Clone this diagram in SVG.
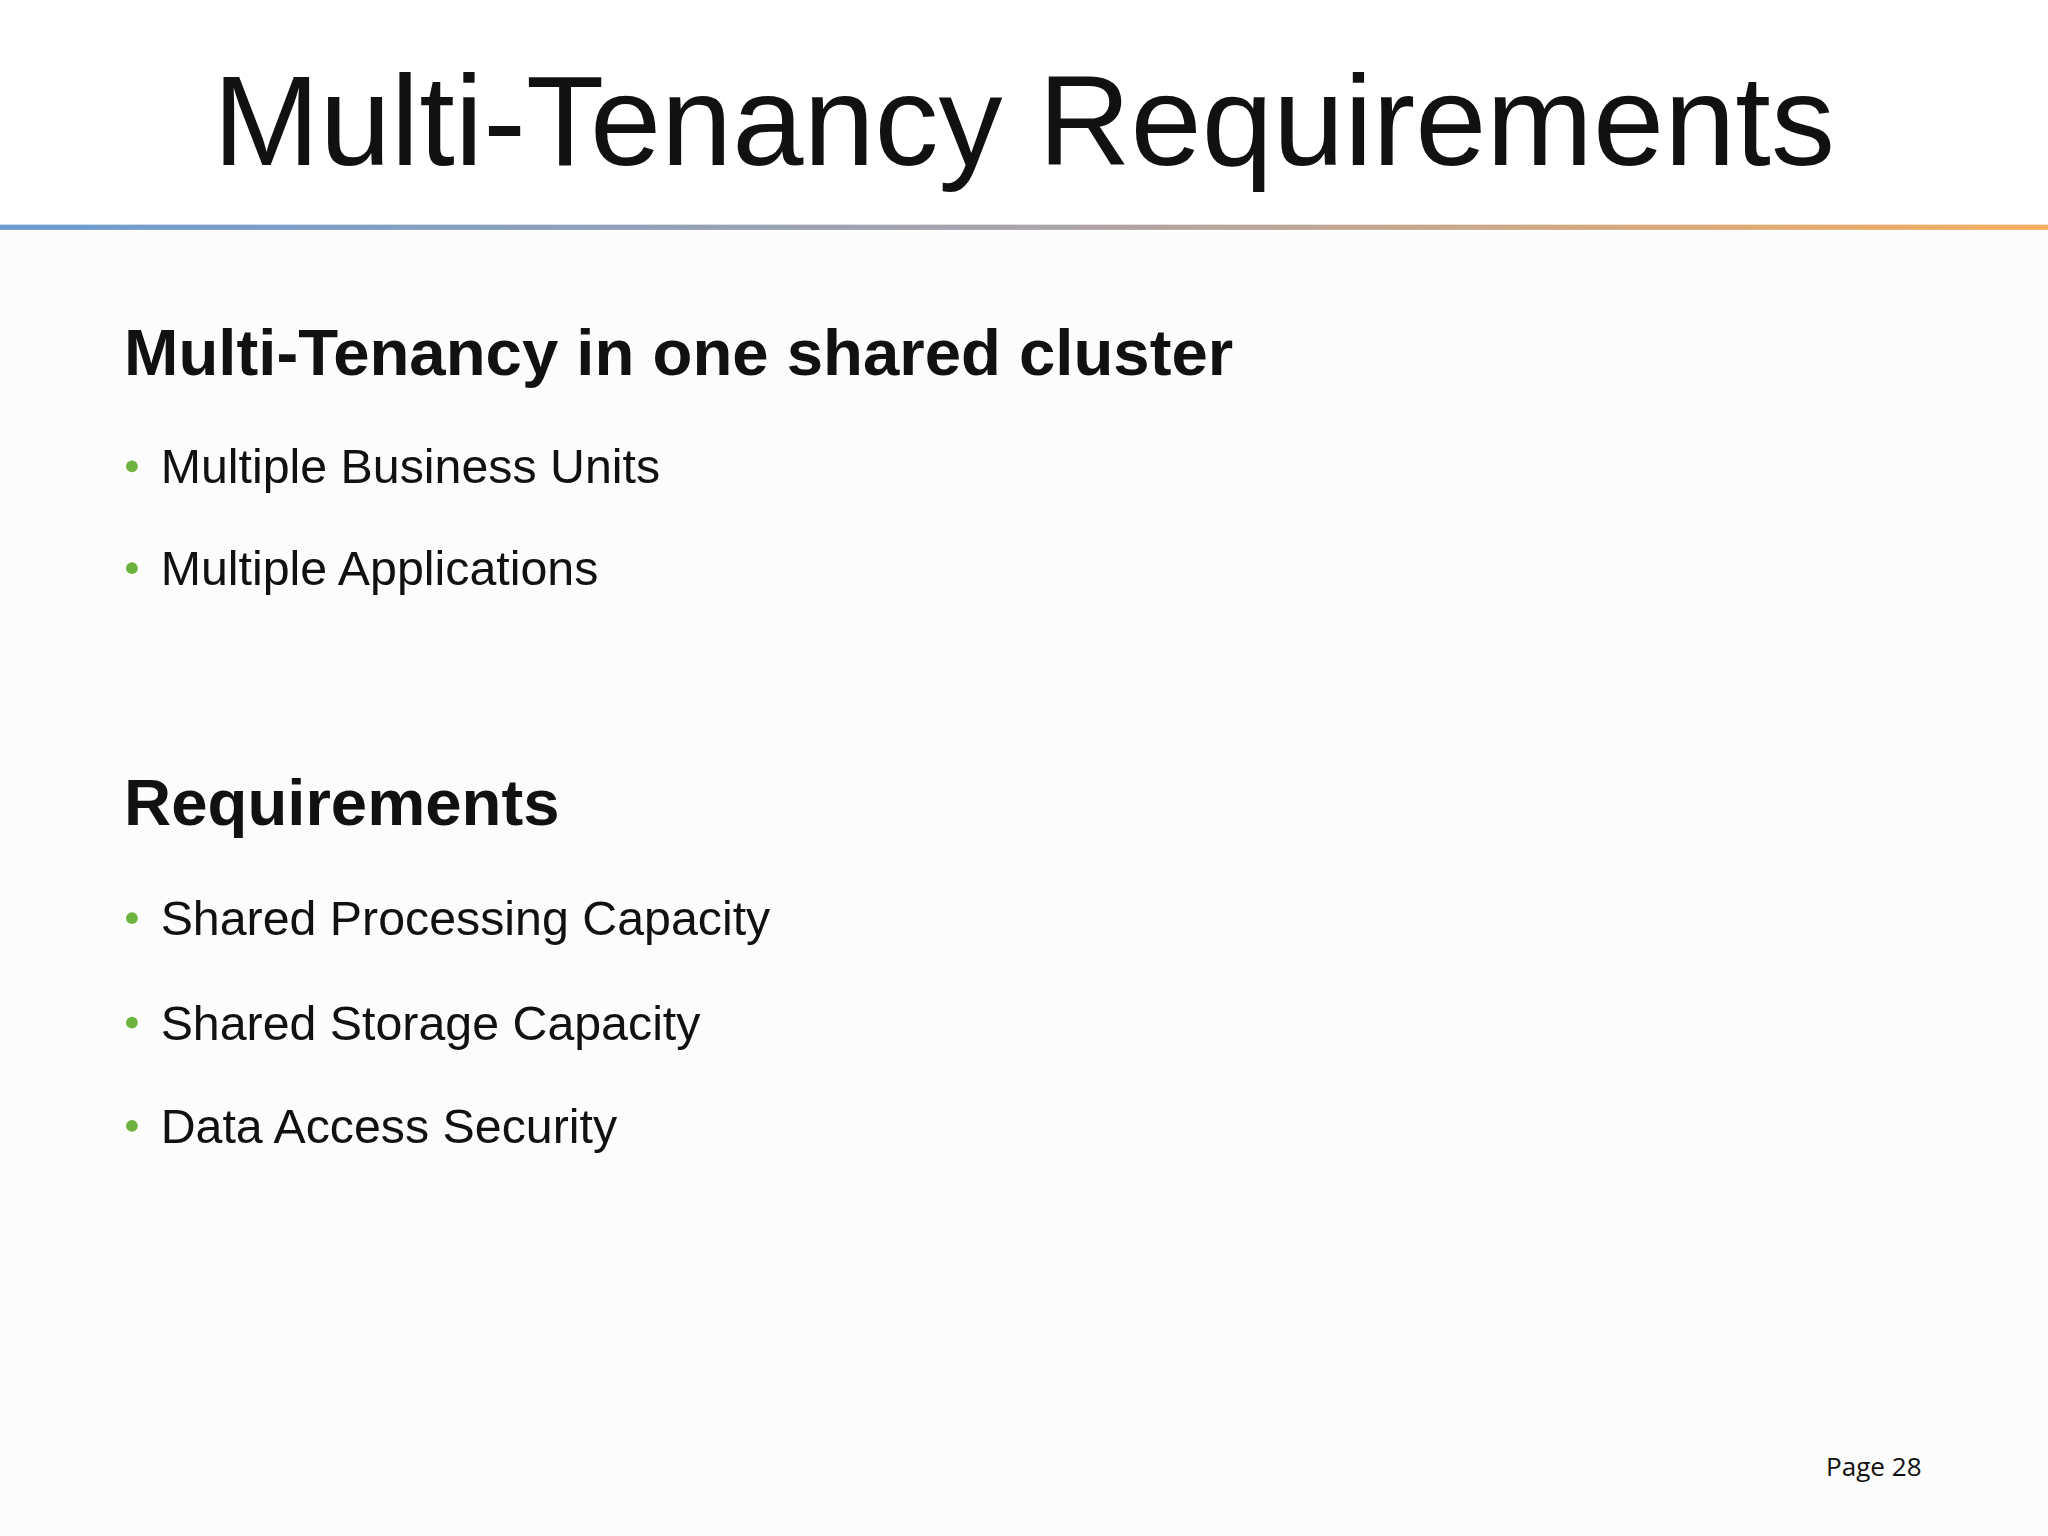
<svg xmlns="http://www.w3.org/2000/svg" width="2048" height="1536" viewBox="0 0 2048 1536">
<defs>
<linearGradient id="rule" x1="0" x2="1" y1="0" y2="0">
<stop offset="0" stop-color="#6a9bd1"/>
<stop offset="0.5" stop-color="#a9a3aa"/>
<stop offset="1" stop-color="#f5ad5e"/>
</linearGradient>
<style>
.t{font-family:"Liberation Sans",Arial,sans-serif;fill:#111}
.h{font-weight:bold;font-size:50px}
.b{font-size:37px}
.dot{fill:#6cb33f}
</style>
</defs>
<rect width="2048" height="1536" fill="#ffffff"/>
<g transform="scale(1.30612)">
<rect x="0" y="178" width="1568" height="998" fill="#fcfcfc"/>
<g id="title"><text class="t" x="784" y="126" font-size="98" text-anchor="middle">Multi-Tenancy Requirements</text></g>
<rect id="rule-line" x="0" y="172" width="1568" height="4" fill="url(#rule)"/>
<g id="section1">
<text class="t h" x="95" y="287">Multi-Tenancy in one shared cluster</text>
<circle class="dot" cx="101" cy="357" r="4.5"/><text class="t b" x="123" y="370">Multiple Business Units</text>
<circle class="dot" cx="101" cy="435" r="4.5"/><text class="t b" x="123" y="448">Multiple Applications</text>
</g>
<g id="section2">
<text class="t h" x="95" y="632">Requirements</text>
<circle class="dot" cx="101" cy="703" r="4.5"/><text class="t b" x="123" y="716">Shared Processing Capacity</text>
<circle class="dot" cx="101" cy="783" r="4.5"/><text class="t b" x="123" y="796">Shared Storage Capacity</text>
<circle class="dot" cx="101" cy="862" r="4.5"/><text class="t b" x="123" y="875">Data Access Security</text>
</g>
<g id="page"><text x="1398" y="1130" font-family="'Open Sans','Liberation Sans',sans-serif" font-size="20" fill="#111">Page 28</text></g>
</g>
</svg>
